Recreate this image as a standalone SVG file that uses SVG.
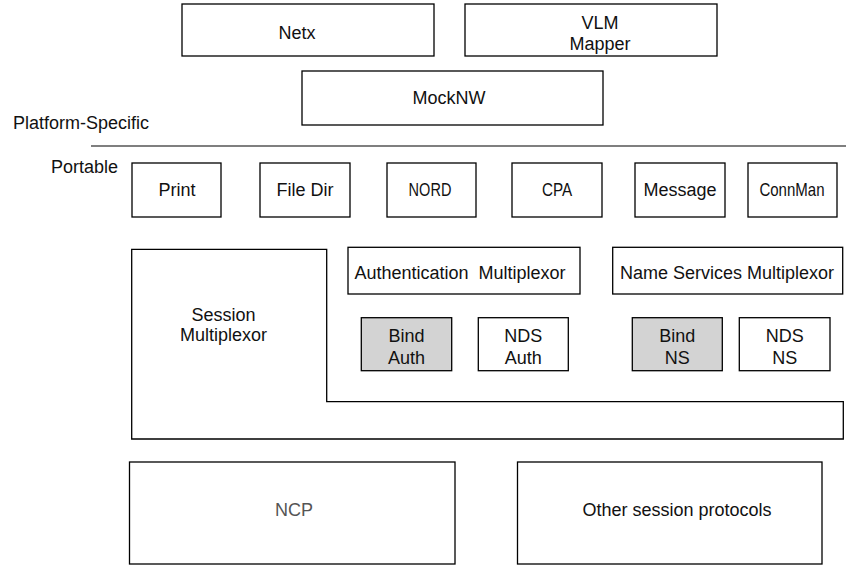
<svg xmlns="http://www.w3.org/2000/svg" width="846" height="565" viewBox="0 0 846 565">
<style>
  .box { fill: #ffffff; stroke: #000000; stroke-width: 1.3; }
  .grey { fill: #d3d3d3; stroke: #000000; stroke-width: 1.3; }
  text { font-family: "Liberation Sans", Arial, sans-serif; font-size: 18px; fill: #111111; }
  .c { text-anchor: middle; }
  .narrow { font-size: 17.5px; }
  .dim { fill: #555555; }
</style>
<rect width="846" height="565" fill="#ffffff"/>
<g id="netx"><rect class="box" x="182" y="4" width="252" height="52"/><text class="c" x="297" y="39">Netx</text></g>
<g id="vlm"><rect class="box" x="465" y="4" width="252" height="52"/><text class="c" x="600" y="29">VLM</text><text class="c" x="600" y="50">Mapper</text></g>
<g id="mocknw"><rect class="box" x="302" y="71" width="301" height="54"/><text class="c" x="449" y="104">MockNW</text></g>
<g id="layers">
  <text x="13" y="129">Platform-Specific</text>
  <line x1="91" y1="146" x2="846" y2="146" stroke="#555555" stroke-width="1.5"/>
  <text x="51" y="173">Portable</text>
</g>
<g id="print"><rect class="box" x="132" y="163" width="89" height="54"/><text class="c" x="177" y="196">Print</text></g>
<g id="filedir"><rect class="box" x="260" y="163" width="90" height="54"/><text class="c" x="305" y="196">File Dir</text></g>
<g id="nord"><rect class="box" x="387" y="163" width="89" height="54"/><text class="c narrow" x="430" y="196" transform="translate(430 0) scale(0.83 1) translate(-430 0)">NORD</text></g>
<g id="cpa"><rect class="box" x="512" y="163" width="90" height="54"/><text class="c narrow" x="557" y="196" transform="translate(557 0) scale(0.87 1) translate(-557 0)">CPA</text></g>
<g id="message"><rect class="box" x="635" y="163" width="90" height="54"/><text class="c" x="680" y="196">Message</text></g>
<g id="connman"><rect class="box" x="748" y="163" width="89" height="54"/><text class="c narrow" x="792" y="196" transform="translate(792 0) scale(0.86 1) translate(-792 0)">ConnMan</text></g>
<g id="session"><path class="box" d="M131.7 249.3 H326.7 V401.7 H843.3 V439 H131.7 Z"/><text class="c" x="223.5" y="320.5">Session</text><text class="c" x="223.5" y="340.5">Multiplexor</text></g>
<g id="authmux"><rect class="box" x="348" y="247.3" width="232" height="46.7"/><text class="c" x="460" y="279" xml:space="preserve">Authentication  Multiplexor</text></g>
<g id="nsmux"><rect class="box" x="612.7" y="247.3" width="230" height="46.7"/><text class="c" x="727" y="279">Name Services Multiplexor</text></g>
<g id="bindauth"><rect class="grey" x="361.3" y="317.7" width="90.4" height="53"/><text class="c" x="406.5" y="341.5">Bind</text><text class="c" x="406.5" y="363.5">Auth</text></g>
<g id="ndsauth"><rect class="box" x="478.3" y="317.7" width="90" height="53"/><text class="c" x="523.3" y="341.5">NDS</text><text class="c" x="523.3" y="363.5">Auth</text></g>
<g id="bindns"><rect class="grey" x="632.3" y="317.7" width="90" height="53"/><text class="c" x="677.3" y="341.5">Bind</text><text class="c" x="677.3" y="363.5">NS</text></g>
<g id="ndsns"><rect class="box" x="739.3" y="317.7" width="90.7" height="53"/><text class="c" x="784.7" y="341.5">NDS</text><text class="c" x="784.7" y="363.5">NS</text></g>
<g id="ncp"><rect class="box" x="129.5" y="462" width="325.5" height="102"/><text class="c dim" x="294" y="516">NCP</text></g>
<g id="other"><rect class="box" x="517.5" y="462" width="304.5" height="102"/><text class="c" x="677" y="516">Other session protocols</text></g>
<g id="connectors"></g>
</svg>
